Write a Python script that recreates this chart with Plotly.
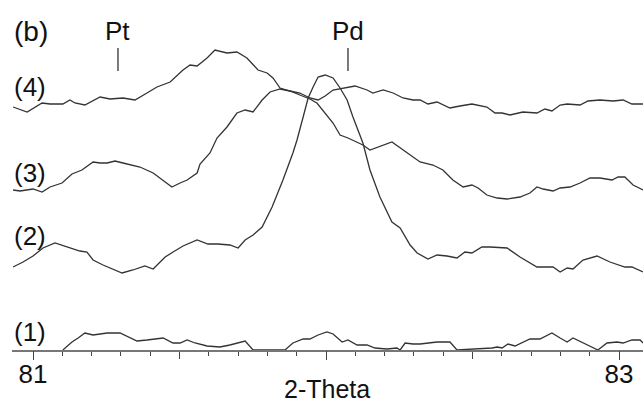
import plotly.graph_objects as go

# ---- data (2-Theta in degrees, intensity in arbitrary offset units) ----
x1 = [81.102, 81.133, 81.154, 81.177, 81.205, 81.253, 81.297, 81.355, 81.389, 81.444,
      81.478, 81.502, 81.526, 81.553, 81.594, 81.638, 81.672, 81.700, 81.724, 81.751,
      81.860, 81.887, 81.922, 81.945, 81.973, 82.003, 82.024, 82.055, 82.075, 82.106,
      82.140, 82.167, 82.208, 82.242, 82.253, 82.270, 82.297, 82.321, 82.379, 82.423,
      82.447, 82.567, 82.584, 82.601, 82.621, 82.645, 82.696, 82.730, 82.771, 82.799,
      82.823, 82.843, 82.877, 82.928, 82.959, 82.993, 83.014, 83.044, 83.072, 83.082]
y1 = [0, 8, 12, 17, 15, 17, 17, 9, 10, 12,
      7, 7, 10, 7, 4, 3, 5, 7, 9, 0,
      0, 7, 11, 11, 15, 18, 16, 8, 10, 5,
      5, 2, 1, 2, 0, 7, 6, 6, 8, 8,
      0, 2, 3, 2, 6, 4, 11, 11, 17, 12,
      8, 12, 7, 0, 7, 8, 7, 10, 10, 7]

x2 = [80.932, 80.966, 81.000, 81.034, 81.075, 81.116, 81.160, 81.184, 81.205, 81.239,
      81.304, 81.341, 81.382, 81.410, 81.451, 81.478, 81.512, 81.560, 81.597, 81.631,
      81.672, 81.700, 81.724, 81.751, 81.782, 81.816, 81.853, 81.887, 81.901, 81.922,
      81.939, 81.956, 81.973, 81.997, 82.024, 82.048, 82.072, 82.092, 82.109, 82.126,
      82.150, 82.184, 82.225, 82.253, 82.287, 82.311, 82.348, 82.379, 82.413, 82.447,
      82.474, 82.498, 82.532, 82.560, 82.618, 82.662, 82.720, 82.775, 82.799, 82.823,
      82.843, 82.877, 82.925, 82.969, 83.020, 83.044, 83.082]
y2 = [83, 88, 94, 102, 107, 103, 99, 98, 90, 85,
      77, 80, 84, 81, 93, 98, 104, 110, 106, 106,
      105, 102, 110, 115, 123, 143, 170, 197, 210, 233,
      252, 263, 273, 275, 272, 262, 250, 233, 220, 207,
      180, 153, 128, 122, 105, 97, 91, 95, 94, 92,
      98, 97, 103, 103, 102, 93, 83, 83, 78, 82,
      81, 90, 94, 88, 83, 83, 78]

x3 = [80.932, 80.956, 81.000, 81.031, 81.058, 81.099, 81.133, 81.167, 81.205, 81.229,
      81.253, 81.280, 81.307, 81.365, 81.410, 81.444, 81.474, 81.502, 81.526, 81.560,
      81.570, 81.604, 81.628, 81.662, 81.696, 81.724, 81.751, 81.782, 81.809, 81.843,
      81.877, 81.911, 81.945, 81.969, 82.003, 82.024, 82.048, 82.075, 82.126, 82.150,
      82.225, 82.253, 82.297, 82.321, 82.365, 82.399, 82.433, 82.468, 82.498, 82.519,
      82.549, 82.584, 82.618, 82.662, 82.696, 82.720, 82.741, 82.775, 82.799, 82.833,
      82.867, 82.901, 82.935, 82.976, 82.997, 83.020, 83.048, 83.082]
y3 = [160, 159, 161, 158, 163, 167, 176, 180, 188, 187,
      187, 189, 187, 183, 177, 170, 163, 167, 170, 177,
      186, 197, 212, 223, 237, 240, 238, 250, 258, 261,
      259, 255, 251, 247, 235, 227, 215, 212, 205, 200,
      208, 202, 193, 188, 185, 180, 170, 163, 165, 162,
      155, 152, 151, 153, 157, 163, 161, 159, 162, 163,
      167, 172, 172, 170, 173, 173, 165, 160]

x4 = [80.932, 80.980, 81.031, 81.058, 81.102, 81.126, 81.143, 81.177, 81.229, 81.263,
      81.307, 81.348, 81.389, 81.423, 81.468, 81.512, 81.536, 81.560, 81.594, 81.621,
      81.662, 81.696, 81.730, 81.768, 81.799, 81.819, 81.843, 81.877, 81.911, 81.945,
      81.973, 81.997, 82.024, 82.058, 82.099, 82.140, 82.160, 82.195, 82.229, 82.263,
      82.297, 82.321, 82.348, 82.379, 82.423, 82.457, 82.498, 82.549, 82.577, 82.601,
      82.628, 82.672, 82.720, 82.747, 82.771, 82.799, 82.823, 82.867, 82.894, 82.935,
      82.980, 83.014, 83.044, 83.082]
y4 = [243, 238, 247, 246, 246, 250, 247, 245, 253, 251,
      252, 250, 257, 263, 268, 280, 285, 284, 292, 300,
      297, 298, 292, 280, 277, 272, 262, 259, 257, 252,
      250, 254, 260, 262, 264, 260, 257, 260, 257, 252,
      250, 250, 246, 248, 242, 244, 246, 243, 237, 237,
      235, 238, 237, 241, 239, 245, 246, 245, 249, 250,
      249, 250, 246, 246]

curve_labels = ["(1)", "(2)", "(3)", "(4)"]
ref_labels = ["Pt", "Pd"]
ref_pos = [81.29, 82.075]
tick_major = [81, 82, 83]
tick_major_text = ["81", "", "83"]
tick_half = [81.5, 82.5]

LINE = "#333333"
TXT = "#111111"
FONT = "Liberation Sans, Arial, sans-serif"
FS = 26

fig = go.Figure()
for xs, ys in [(x1, y1), (x2, y2), (x3, y3), (x4, y4)]:
    fig.add_trace(go.Scatter(x=xs, y=ys, mode="lines",
                             line=dict(color=LINE, width=1.3),
                             showlegend=False, hoverinfo="skip"))

# invisible trace for second x axis (major labelled ticks)
fig.add_trace(go.Scatter(x=[81, 83], y=[0, 0], xaxis="x2", mode="lines",
                         line=dict(width=0), showlegend=False, hoverinfo="skip"))

x_range = [80.9283, 83.0819]

fig.update_layout(
    width=643, height=403,
    margin=dict(l=12, r=0, t=0, b=53),
    paper_bgcolor="white", plot_bgcolor="white",
    font=dict(family=FONT, color=TXT, size=FS),
    xaxis=dict(range=x_range, showgrid=False, zeroline=False,
               showline=True, linecolor="#777777", linewidth=1.5,
               ticks="outside", tickvals=tick_half, ticktext=["", ""],
               ticklen=7, tickwidth=1.2, tickcolor="#444444",
               minor=dict(tickmode="linear", tick0=81, dtick=0.1, ticks="outside",
                          ticklen=4, tickwidth=1.2, tickcolor="#444444", showgrid=False)),
    xaxis2=dict(range=x_range, overlaying="x", side="bottom", anchor="y",
                showgrid=False, zeroline=False, showline=False,
                ticks="outside", tickvals=tick_major, ticktext=tick_major_text,
                ticklen=9, tickwidth=1.2, tickcolor="#444444",
                ticklabelstandoff=-8,
                tickfont=dict(size=FS, family=FONT, color=TXT)),
    yaxis=dict(range=[0, 350], visible=False, fixedrange=True),
)

# reference markers
for lab, pos in zip(ref_labels, ref_pos):
    fig.add_shape(type="line", x0=pos, x1=pos, y0=279, y1=302,
                  line=dict(color=LINE, width=1.3))
    fig.add_annotation(x=pos, y=319, text=lab, showarrow=False,
                       xanchor="center", yanchor="middle",
                       font=dict(size=FS, family=FONT, color=TXT))

# curve labels
label_y = [0.051, 0.326, 0.506, 0.751]
for lab, yy in zip(curve_labels, label_y):
    fig.add_annotation(xref="paper", yref="paper", x=0.0, y=yy, text=lab,
                       showarrow=False, xanchor="left", yanchor="middle",
                       font=dict(size=FS, family=FONT, color=TXT))

fig.add_annotation(xref="paper", yref="paper", x=0.0, y=0.911, text="(b)",
                   showarrow=False, xanchor="left", yanchor="middle",
                   font=dict(size=28, family=FONT, color=TXT))

fig.add_annotation(xref="paper", yref="paper", x=0.4992, y=-0.111, text="2-Theta",
                   showarrow=False, xanchor="center", yanchor="middle", borderpad=0,
                   font=dict(size=25, family=FONT, color=TXT))

fig.write_html("out.html", config={"displayModeBar": False},
               post_script="document.body.style.margin='0';document.body.style.padding='0';document.body.style.overflow='hidden';")
